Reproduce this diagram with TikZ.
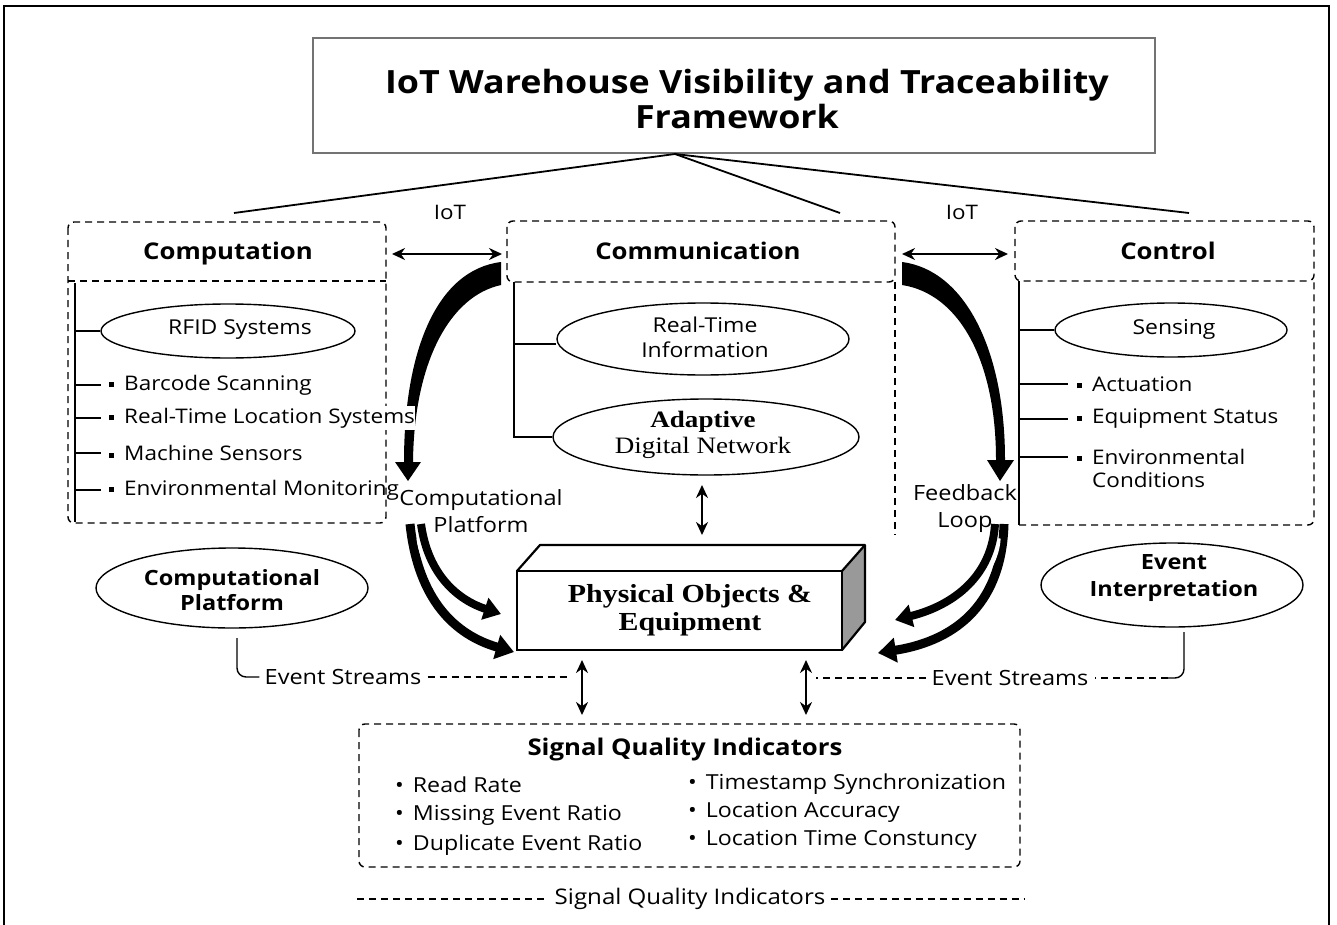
\documentclass[tikz,border=0pt]{standalone}
\usepackage{fontspec}
\setmainfont[FakeStretch=1.12]{Open Sans}
\newfontfamily\serifface[FakeStretch=1.15]{Liberation Serif}
\usetikzlibrary{arrows.meta,shapes.geometric}
\newcommand{\sqbul}{\rule[0.28ex]{5pt}{5pt}\hspace{10pt}}
\newcommand{\rdbul}{\textbullet\hspace{9pt}}
\tikzset{
  dbox/.style={draw, dash pattern=on 7pt off 5pt, line width=1.4pt},
  dline/.style={dash pattern=on 7pt off 5pt, line width=1.4pt},
  thin line/.style={line width=1.4pt},
  item/.style={anchor=west, inner sep=0pt, font=\fontsize{20.7}{23}\selectfont},
  sqitem/.style={anchor=west, inner sep=0pt, font=\fontsize{20.1}{23}\selectfont},
  head/.style={inner sep=0pt, anchor=base, font=\bfseries\fontsize{23}{27}\selectfont},
  oval/.style={draw, ellipse, line width=1.4pt, inner sep=0pt},
  lbl/.style={inner sep=0pt, align=center, font=\fontsize{21}{27}\selectfont},
  twoway/.style={{Stealth[length=13pt,width=12pt]}-{Stealth[length=13pt,width=12pt]}, line width=2pt},
}
\begin{document}
\begin{tikzpicture}[x=1pt,y=-1pt]
\useasboundingbox (0,0) rectangle (1337,925);
% outer frame
\draw[line width=2.2pt] (4,925) -- (4,6) -- (1329,6) -- (1329,925);

% title block
\node[draw=black!55, line width=1.6pt, fill=white, minimum width=842pt, minimum height=115pt, inner sep=0pt] (title) at (734,95.5) {};
\node[inner sep=0pt, align=center, font=\bfseries\fontsize{32}{35}\selectfont] (titletxt) at (747,99) {IoT Warehouse Visibility and Traceability\\Framework\hspace*{20pt}};
\coordinate (apex) at (675,154);
\coordinate (tl) at (234,213);
\coordinate (tm) at (840,213);
\coordinate (tr) at (1189,213);
\draw[line width=1.8pt] (tl) -- (apex) -- (tr);
\draw[line width=1.8pt] (apex) -- (tm);

% ---------- Computation ----------
\draw[dbox, rounded corners=6pt] (68,222) rectangle (386,523);
\draw[dline] (68,281) -- (386,281);
\node[head] (comp) at (228,259) {Computation};
\draw[thin line] (75,283) -- (75,522);
\node[oval, minimum width=254pt, minimum height=54pt] (rfid) at (228,331) {};
\node[sqitem, anchor=center, font=\fontsize{20.5}{23}\selectfont] (rfidtxt) at (240,330) {RFID Systems};
\draw[thin line] (75,331) -- (rfid.west);
\node[sqitem] (c1) at (109,385) {\sqbul Barcode Scanning};
\node[sqitem] (c3) at (109,453) {\sqbul Machine Sensors};
\node[sqitem] (c4) at (109,490) {\sqbul Environmental Monitoring};
\foreach \yy in {385,418,453,490} \draw[thin line] (75,\yy) -- (101,\yy);

% ---------- Communication ----------
\draw[dbox, rounded corners=6pt] (507,221) rectangle (895,282);
\draw[dline] (895,282) -- (895,535);
\node[head] (comm) at (698,259) {Communication};
\node[oval, minimum width=292pt, minimum height=72pt] (rti) at (703,339) {};
\node[lbl, font=\fontsize{20.5}{25}\selectfont] (rtitxt) at (705,337) {Real-Time\\Information};
\node[oval, minimum width=306pt, minimum height=76pt] (adn) at (706,437) {};
\node[lbl, font=\serifface\fontsize{23.5}{26}\selectfont] (adntxt) at (703,435) {\textbf{Adaptive}\\Digital Network};
\draw[thin line] (514,282) -- (514,437) -- (adn.west);
\draw[thin line] (514,344) -- (rti.west |- 514,344);

% ---------- Control ----------
\draw[dbox, rounded corners=6pt] (1015,221) rectangle (1314,281);
\draw[dline, rounded corners=6pt] (1019,525) -- (1314,525) -- (1314,281);
\draw[thin line] (1019,281) -- (1019,525);
\node[head] (ctrl) at (1168,259) {Control};
\node[oval, minimum width=232pt, minimum height=54pt] (sens) at (1171,330) {};
\node[sqitem, anchor=center, font=\fontsize{20.5}{23}\selectfont] (senstxt) at (1174,329) {Sensing};
\draw[thin line] (1019,330) -- (sens.west);
\node[sqitem] (k1) at (1077,384) {\sqbul Actuation};
\node[sqitem] (k2) at (1077,419) {\sqbul Equipment Status};
\node[sqitem, align=left] (k3) at (1077,468) {\sqbul Environmental\\\hspace{15pt}Conditions};
\foreach \yy in {384,419,457} \draw[thin line] (1019,\yy) -- (1068,\yy);

% ---------- IoT links ----------
\node[lbl, font=\fontsize{20}{22}\selectfont] (iot1) at (450,212) {IoT};
\node[lbl, font=\fontsize{20}{22}\selectfont] (iot2) at (962,212) {IoT};
\draw[twoway] (392,254) -- (502,254);
\draw[twoway] (902,254) -- (1008,254);

% big curved flows
\fill (501,262) .. controls (437,270) and (404,350) .. (404,462) -- (395,462) -- (408,481) -- (421,462) -- (413,462) .. controls (414,362) and (450,296) .. (501,285) -- cycle;
\fill (902,262) .. controls (965,270) and (1005,350) .. (1005,460) -- (1014,460) -- (1000,481) -- (987,460) -- (996,460) .. controls (996,362) and (960,294) .. (902,285) -- cycle;
\node[sqitem, fill=white, inner ysep=2pt] (c2) at (109,418) {\sqbul Real-Time Location Systems};

\node[lbl] (cplbl) at (481,511) {Computational\\Platform};
\node[lbl] (fblbl) at (965,509) {Feedback\\Loop};

% ---------- Physical objects ----------
\fill[black!40] (842,571) -- (865,545) -- (865,622) -- (842,650) -- cycle;
\draw[line width=2.2pt, line join=round] (517,571) -- (540,545) -- (865,545) -- (865,622) -- (842,650);
\draw[line width=2.2pt] (842,571) -- (865,545);
\node[draw, line width=2.5pt, minimum width=325pt, minimum height=79pt, inner sep=0pt, fill=white] (phys) at (679.5,610.5) {};
\node[lbl, font=\serifface\bfseries\fontsize{26}{28}\selectfont] (phystxt) at (690,610) {Physical Objects \&\\Equipment};
\coordinate (adnlow) at (702,485);
\coordinate (physup) at (702,535);
\draw[twoway] (adnlow) -- (physup);

% flows into the physical objects
\draw[line width=9pt, -{Triangle[length=18pt,width=24pt]}] (410,524) .. controls (418,600) and (455,635) .. (514,652);
\draw[white, line width=13pt, shorten >=14pt, shorten <=14pt] (421,524) .. controls (428,575) and (458,600) .. (501,614);
\draw[line width=8pt, -{Triangle[length=17pt,width=22pt]}] (421,524) .. controls (428,575) and (458,600) .. (501,614);
\draw[line width=9pt, -{Triangle[length=18pt,width=24pt]}] (1004,524) .. controls (1002,600) and (960,640) .. (878,653);
\draw[white, line width=13pt, shorten >=14pt, shorten <=14pt] (995,524) .. controls (992,575) and (955,605) .. (895,620);
\draw[line width=8pt, -{Triangle[length=17pt,width=22pt]}] (995,524) .. controls (992,575) and (955,605) .. (895,620);

% ---------- side ovals and event streams ----------
\node[oval, minimum width=272pt, minimum height=80pt] (cpo) at (232,588) {};
\node[lbl, font=\bfseries\fontsize{21}{25}\selectfont] (cpotxt) at (232,590) {Computational\\Platform};
\node[oval, minimum width=262pt, minimum height=84pt] (evi) at (1172,585) {};
\node[lbl, font=\bfseries\fontsize{21}{27}\selectfont] (evitxt) at (1174,578) {Event\\Interpretation};

\node[lbl] (es1) at (343,677) {Event Streams};
\node[lbl] (es2) at (1010,678) {Event Streams};
\draw[thin line, rounded corners=9pt] (237,638) |- ([xshift=-5pt]es1.west);
\draw[dline] ([xshift=6pt]es1.east) -- (570,677);
\draw[thin line, rounded corners=9pt] (1184,632) |- (1168,678);
\draw[dline] (1168,678) -- ([xshift=6pt]es2.east);
\draw[dline] ([xshift=-6pt]es2.west) -- (816,678);

\coordinate (a1t) at (582,660);
\coordinate (a1b) at (582,715);
\coordinate (a2t) at (806,660);
\coordinate (a2b) at (806,715);
\draw[twoway] (a1t) -- (a1b);
\draw[twoway] (a2t) -- (a2b);

% ---------- Signal quality ----------
\draw[dbox, rounded corners=6pt] (359,724) rectangle (1020,867);
\node[lbl, font=\fontsize{23}{26}\selectfont\bfseries] (sqi) at (685,750) {Signal Quality Indicators};
\node[item] (s1) at (395,785) {\rdbul Read Rate};
\node[item] (s2) at (395,815) {\rdbul Missing Event Ratio};
\node[item] (s3) at (395,845) {\rdbul Duplicate Event Ratio};
\node[item] (s4) at (688,784) {\rdbul Timestamp Synchronization};
\node[item] (s5) at (688,812) {\rdbul Location Accuracy};
\node[item] (s6) at (688,840) {\rdbul Location Time Constuncy};

\node[lbl, font=\fontsize{21.5}{25}\selectfont] (sqb) at (690,899) {Signal Quality Indicators};
\draw[dline] (357,899) -- ([xshift=-6pt]sqb.west);
\draw[dline] ([xshift=6pt]sqb.east) -- (1025,899);
\end{tikzpicture}
\end{document}
